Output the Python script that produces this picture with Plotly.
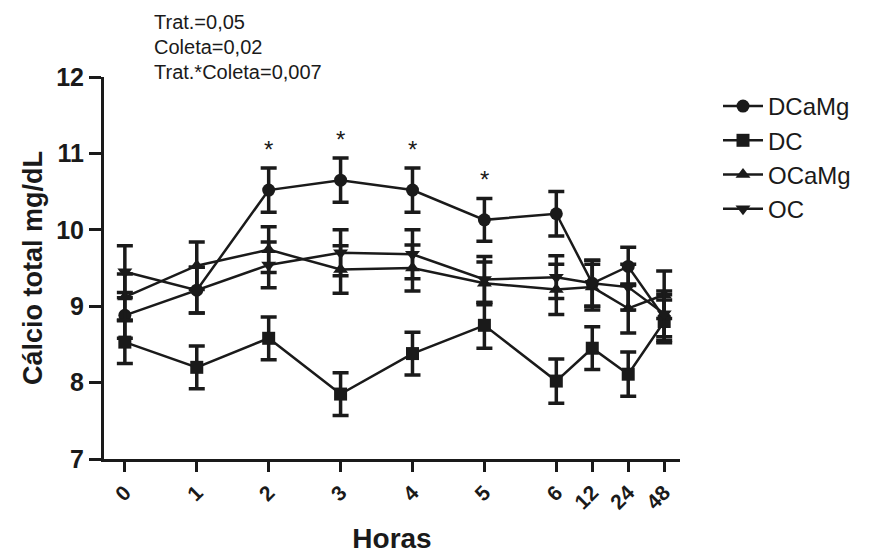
import plotly.graph_objects as go

hours = ["0", "1", "2", "3", "4", "5", "6", "12", "24", "48"]
tick_pos = [0, 1, 2, 3, 4, 5, 6, 6.5, 7, 7.5]

dcamg = [8.88, 9.21, 10.52, 10.65, 10.52, 10.13, 10.21, 9.30, 9.52, 8.85]
dcamg_sem = [0.30, 0.30, 0.29, 0.29, 0.29, 0.28, 0.29, 0.30, 0.25, 0.30]
dc = [8.53, 8.20, 8.58, 7.85, 8.38, 8.75, 8.02, 8.45, 8.11, 8.80]
dc_sem = [0.28, 0.28, 0.28, 0.28, 0.28, 0.30, 0.29, 0.28, 0.29, 0.28]
ocamg = [9.12, 9.53, 9.74, 9.48, 9.50, 9.30, 9.22, 9.25, 8.97, 9.15]
ocamg_sem = [0.30, 0.31, 0.30, 0.31, 0.30, 0.28, 0.33, 0.30, 0.32, 0.31]
oc = [9.45, 9.21, 9.54, 9.70, 9.68, 9.35, 9.38, 9.30, 9.25, 8.90]
oc_sem = [0.34, 0.30, 0.30, 0.30, 0.32, 0.30, 0.28, 0.30, 0.30, 0.30]

series = [
    ("DCaMg", dcamg, dcamg_sem, "circle"),
    ("DC", dc, dc_sem, "square"),
    ("OCaMg", ocamg, ocamg_sem, "triangle-up"),
    ("OC", oc, oc_sem, "triangle-down"),
]

sig_idx = [2, 3, 4, 5]
stats_text = ["Trat.=0,05", "Coleta=0,02", "Trat.*Coleta=0,007"]

INK = "#1a1a1a"
FONT = "Arial, Liberation Sans, sans-serif"

# page body has an 8px margin, so work in coordinates shifted by 8px
OFF = 8
W, H = 896 - OFF, 558 - OFF
L, T = 104 - OFF, 77 - OFF
R = W - (680 - OFF)
B = H - (459 - OFF)
pw, ph = W - L - R, H - T - B

fig = go.Figure()
for name, vals, sem, sym in series:
    fig.add_trace(go.Scatter(
        x=tick_pos, y=vals, name=name, mode="lines+markers",
        line=dict(color=INK, width=2.5),
        marker=dict(symbol=sym, size=13, color=INK),
        error_y=dict(type="data", array=sem, visible=True, color=INK,
                     thickness=3.5, width=8),
    ))

for i in sig_idx:
    fig.add_annotation(x=tick_pos[i], y=dcamg[i] + dcamg_sem[i], text="*",
                       showarrow=False, yanchor="bottom", yshift=3,
                       font=dict(size=24, color=INK, family=FONT))

for k, t in enumerate(stats_text):
    px, py = 152 - OFF, 22 - OFF + 25 * k
    fig.add_annotation(x=(px - L) / pw, y=1 - (py - T) / ph, xref="paper", yref="paper",
                       text=t, showarrow=False, xanchor="left", yanchor="middle",
                       font=dict(size=20, color=INK, family=FONT))

leg_left = 718 - OFF
leg_top = 84 - OFF

fig.update_layout(
    width=W, height=H,
    margin=dict(l=L, r=R, t=T, b=B, pad=0, autoexpand=False),
    paper_bgcolor="white", plot_bgcolor="white",
    font=dict(family=FONT, color=INK),
    showlegend=True,
    legend=dict(x=(leg_left - L) / pw, y=1 - (leg_top - T) / ph,
                xanchor="left", yanchor="top",
                font=dict(size=24, family=FONT, color=INK),
                bgcolor="rgba(0,0,0,0)", itemwidth=40, tracegroupgap=0),
    xaxis=dict(
        range=[-0.29, 7.72], tickmode="array", tickvals=tick_pos, ticktext=hours,
        tickangle=-45, showgrid=False, zeroline=False, automargin=False,
        showline=True, linecolor=INK, linewidth=3,
        ticks="outside", ticklen=10, tickwidth=3, tickcolor=INK,
        tickfont=dict(size=21, family=FONT, color=INK, weight="bold"),
        title=dict(text="<b>Horas</b>", font=dict(size=28, family=FONT, color=INK), standoff=16),
    ),
    yaxis=dict(
        range=[7, 12], tickvals=[7, 8, 9, 10, 11, 12], showgrid=False, zeroline=False,
        automargin=False,
        showline=True, linecolor=INK, linewidth=3,
        ticks="outside", ticklen=12, tickwidth=3, tickcolor=INK,
        tickfont=dict(size=25, family=FONT, color=INK, weight="bold"),
        title=dict(text="<b>Cálcio total mg/dL</b>", font=dict(size=27, family=FONT, color=INK), standoff=6),
    ),
)

fig.write_html("out.html")
